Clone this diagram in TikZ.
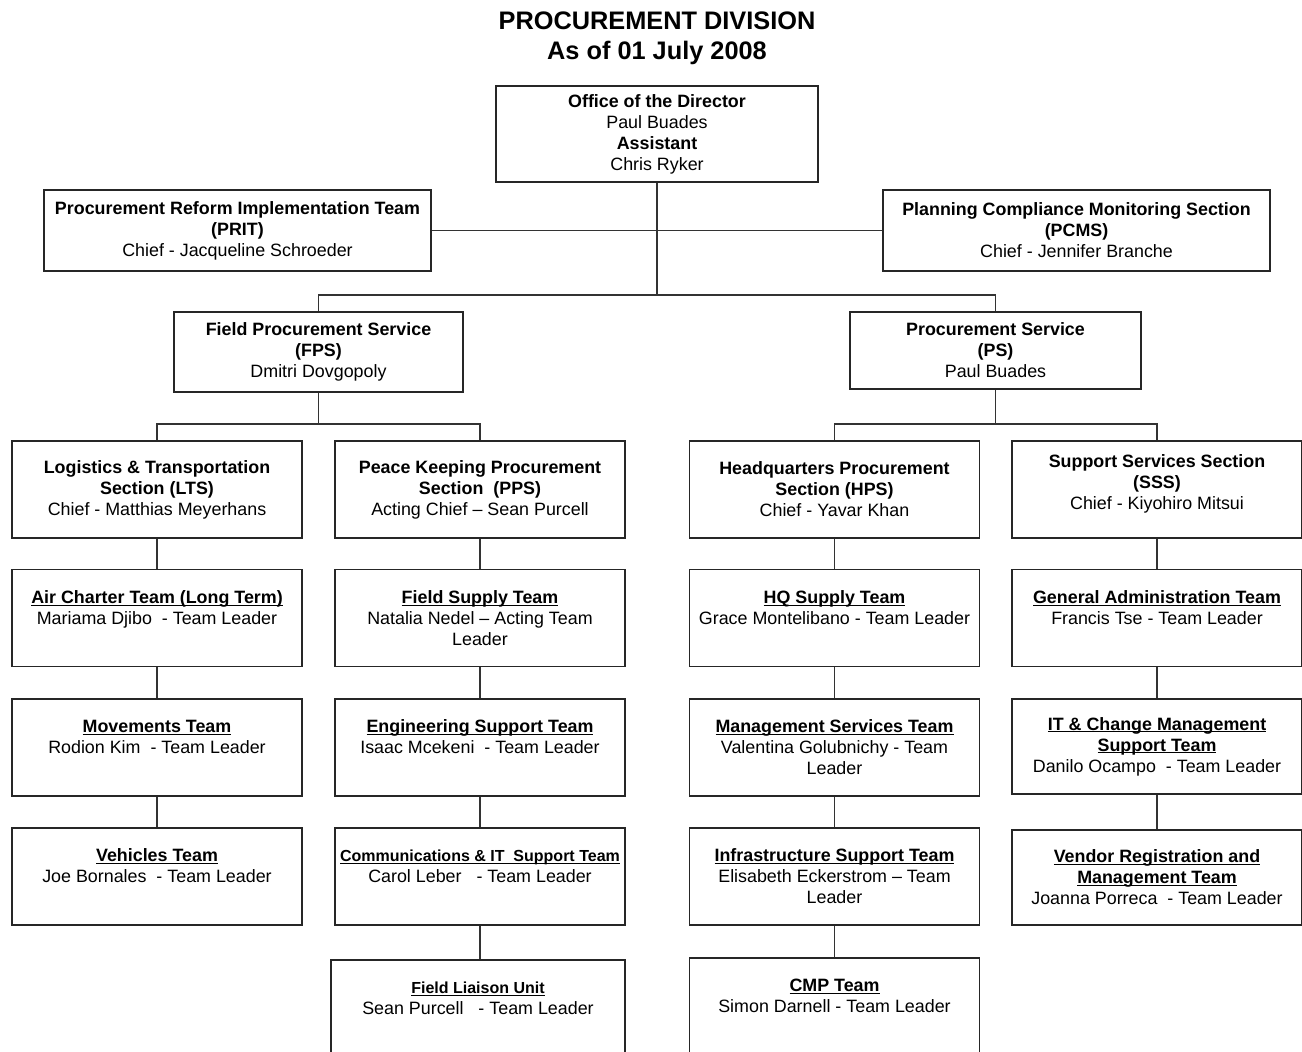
\documentclass[tikz,border=0pt]{standalone}
\usepackage{fontspec}
\setmainfont{Liberation Sans}
\usepackage{xcolor}
\usepackage{tikz}
\usetikzlibrary{positioning}

\newcommand{\teamname}[1]{\setbox0=\hbox{#1}\rlap{\rule[-1.6pt]{\wd0}{0.7pt}}\box0}

\begin{document}
\begin{tikzpicture}[x=0.75pt, y=-0.75pt,
                          box/.style={draw=black!85, line width=1pt, fill=white, align=center, inner sep=0pt,
                                      font=\fontsize{13.4}{15.75}\selectfont},
                          unitbox/.style={box, minimum width=217.5pt, minimum height=72.75pt},
                          link/.style={line width=0.8pt, black!80},
                         ]

\useasboundingbox (0,0) rectangle (1302,1051);
\fill[white] (0,0) rectangle (1302,1051);

\node[align=center, inner sep=0pt, font=\bfseries\fontsize{19}{22.5}\selectfont] (title) at (657,38) {PROCUREMENT DIVISION\\As of 01 July 2008};

% top level
\node[box, minimum width=241.5pt, minimum height=72pt] (dir) at (657,134) {\textbf{Office of the Director}\\Paul Buades\\\textbf{Assistant}\\Chris Ryker};
\node[box, minimum width=290.25pt, minimum height=60.75pt] (prit) at (237.5,230.5) {\textbf{Procurement Reform Implementation Team}\\\textbf{(PRIT)}\\Chief - Jacqueline Schroeder};
\node[box, minimum width=290.25pt, minimum height=60.75pt] (pcms) at (1076.5,230.5) {\textbf{Planning Compliance Monitoring Section}\\\textbf{(PCMS)}\\Chief - Jennifer Branche};
\node[box, minimum width=216.75pt, minimum height=60pt] (fps) at (318.5,352) {\textbf{Field Procurement Service}\\\textbf{(FPS)}\\Dmitri Dovgopoly};
\node[box, minimum width=218.25pt, minimum height=57.75pt] (ps) at (995.5,350.5) {\textbf{Procurement Service}\\\textbf{(PS)}\\Paul Buades};

% sections
\node[unitbox] (lts) at (157,489.5) {\textbf{Logistics \& Transportation}\\\textbf{Section (LTS)}\\Chief - Matthias Meyerhans};
\node[unitbox] (pps) at (480,489.5) {\textbf{Peace Keeping Procurement}\\\textbf{Section~ (PPS)}\\Acting Chief -- Sean Purcell};
\node[unitbox] (hps) at (834.5,489.5) {\textbf{Headquarters Procurement}\\\textbf{Section (HPS)}\\Chief - Yavar Khan};
\node[unitbox] (sss) at (1157,489.5) {\textbf{Support Services Section}\\\textbf{(SSS)}\\Chief - Kiyohiro Mitsui\\[-4pt]~};

% teams
\node[unitbox] (aircharter) at (157,618) {\textbf{\teamname{Air Charter Team (Long Term)}}\\Mariama Djibo~ - Team Leader\\~};
\node[unitbox] (fieldsupply) at (480,618) {\textbf{\teamname{Field Supply Team}}\\Natalia Nedel -- Acting Team\\Leader};
\node[unitbox] (hqsupply) at (834.5,618) {\textbf{\teamname{HQ Supply Team}}\\Grace Montelibano - Team Leader\\~};
\node[unitbox] (genadmin) at (1157,618) {\textbf{\teamname{General Administration Team}}\\Francis Tse - Team Leader\\~};

\node[unitbox] (movements) at (157,747.5) {\textbf{\teamname{Movements Team}}\\Rodion Kim~ - Team Leader\\~};
\node[unitbox] (engineering) at (480,747.5) {\textbf{\teamname{Engineering Support Team}}\\Isaac Mcekeni~ - Team Leader\\~};
\node[unitbox] (mgmtservices) at (834.5,747.5) {\textbf{\teamname{Management Services Team}}\\Valentina Golubnichy - Team\\Leader};
\node[unitbox, minimum height=71.25pt] (itchange) at (1157,746.5) {\textbf{\teamname{IT \& Change Management}}\\\textbf{\teamname{Support Team}}\\Danilo Ocampo~ - Team Leader};

\node[unitbox] (vehicles) at (157,876.5) {\textbf{\teamname{Vehicles Team}}\\Joe Bornales~ - Team Leader\\~};
\node[unitbox] (comms) at (480,876.5) {{\fontsize{12}{15.75}\selectfont\textbf{\teamname{Communications \& IT~ Support Team}}}\\Carol Leber~~ - Team Leader\\~};
\node[unitbox] (infra) at (834.5,876.5) {\textbf{\teamname{Infrastructure Support Team}}\\Elisabeth Eckerstrom -- Team\\Leader};
\node[unitbox, minimum height=71.25pt] (vendor) at (1157,877.5) {\textbf{\teamname{Vendor Registration and}}\\\textbf{\teamname{Management Team}}\\Joanna Porreca~ - Team Leader};

\node[unitbox, minimum width=220.5pt] (liaison) at (478,1008.5) {{\fontsize{12}{15.75}\selectfont\textbf{\teamname{Field Liaison Unit}}}\\Sean Purcell~~ - Team Leader\\~};
\node[unitbox] (cmp) at (834.5,1006.5) {\textbf{\teamname{CMP Team}}\\Simon Darnell - Team Leader\\~};

% connectors
\coordinate (dirbus) at (657,295);
\coordinate (fpsbus) at (318.5,424);
\coordinate (psbus) at (995.5,424);

\draw[link] (prit.east) -- (pcms.west);
\draw[link] (dir.south) -- (dirbus);
\draw[link] (fps.north) |- (dirbus) -| (ps.north);
\draw[link] (fps.south) -- (fpsbus);
\draw[link] (lts.north) |- (fpsbus) -| (pps.north);
\draw[link] (ps.south) -- (psbus);
\draw[link] (hps.north) |- (psbus) -| (sss.north);

\draw[link] (lts) -- (aircharter) -- (movements) -- (vehicles);
\draw[link] (pps) -- (fieldsupply) -- (engineering) -- (comms);
\draw[link] (comms.south) -- (comms.south |- liaison.north);
\draw[link] (hps) -- (hqsupply) -- (mgmtservices) -- (infra) -- (cmp);
\draw[link] (sss) -- (genadmin) -- (itchange) -- (vendor);

\end{tikzpicture}
\end{document}
